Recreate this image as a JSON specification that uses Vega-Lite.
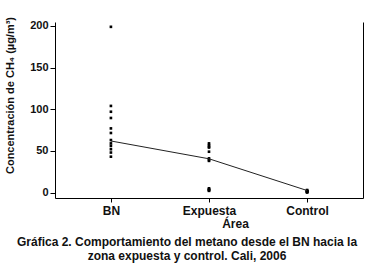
{
  "$schema": "https://vega.github.io/schema/vega-lite/v6.json",
  "autosize": {"type": "none"},
  "padding": {"left": 55, "top": 22, "right": 4, "bottom": 67},
  "width": 308,
  "height": 176,
  "config": {
    "font": "Liberation Sans",
    "view": {"stroke": null},
    "axis": {"grid": false, "domainColor": "#000", "tickColor": "#000", "labelColor": "#111", "titleColor": "#111", "labelFontWeight": "bold", "titleFontWeight": "bold", "labelFontSize": 11, "titleFontSize": 11}
  },
  "title": {
    "text": ["Gráfica 2. Comportamiento del metano desde el BN hacia la", "zona expuesta y control. Cali, 2006"],
    "orient": "bottom",
    "anchor": "middle",
    "dx": -22,
    "offset": 8,
    "fontSize": 12,
    "fontWeight": "bold",
    "lineHeight": 13.5,
    "color": "#111"
  },
  "datasets": {
    "puntos": [
      {"area": "BN", "ch4": 199},
      {"area": "BN", "ch4": 104},
      {"area": "BN", "ch4": 97},
      {"area": "BN", "ch4": 89.5},
      {"area": "BN", "ch4": 77},
      {"area": "BN", "ch4": 71.5},
      {"area": "BN", "ch4": 63},
      {"area": "BN", "ch4": 59},
      {"area": "BN", "ch4": 56},
      {"area": "BN", "ch4": 52},
      {"area": "BN", "ch4": 48},
      {"area": "BN", "ch4": 43},
      {"area": "Expuesta", "ch4": 59},
      {"area": "Expuesta", "ch4": 57},
      {"area": "Expuesta", "ch4": 55},
      {"area": "Expuesta", "ch4": 54},
      {"area": "Expuesta", "ch4": 49},
      {"area": "Expuesta", "ch4": 41},
      {"area": "Expuesta", "ch4": 39},
      {"area": "Expuesta", "ch4": 38},
      {"area": "Expuesta", "ch4": 5},
      {"area": "Expuesta", "ch4": 4},
      {"area": "Expuesta", "ch4": 3},
      {"area": "Expuesta", "ch4": 3},
      {"area": "Expuesta", "ch4": 2},
      {"area": "Control", "ch4": 3},
      {"area": "Control", "ch4": 2},
      {"area": "Control", "ch4": 2},
      {"area": "Control", "ch4": 1.5},
      {"area": "Control", "ch4": 1},
      {"area": "Control", "ch4": 1},
      {"area": "Control", "ch4": 0.5},
      {"area": "Control", "ch4": 0}
    ],
    "linea": [
      {"area": "BN", "ch4": 61.9},
      {"area": "Expuesta", "ch4": 40.5},
      {"area": "Control", "ch4": 2.4}
    ]
  },
  "encoding": {
    "x": {"field": "area", "type": "nominal", "sort": ["BN", "Expuesta", "Control"],
          "scale": {"type": "point", "padding": 0.57},
          "axis": {"title": "Área", "labelAngle": 0, "labelFontSize": 12, "titleFontSize": 12, "tickSize": 4, "labelPadding": 3, "titleY": 20, "titleX": 180, "titleAlign": "center", "titleBaseline": "top"}}
  },
  "layer": [
    {
      "data": {"name": "puntos"},
      "mark": {"type": "point", "filled": true, "shape": "square", "size": 7, "color": "#000", "opacity": 1},
      "encoding": {
        "y": {"field": "ch4", "type": "quantitative",
              "scale": {"domain": [-6.6, 204.8], "nice": false, "zero": false},
              "axis": {"title": "Concentración de CH₄ (µg/m³)", "values": [0, 50, 100, 150, 200], "tickSize": 5, "labelPadding": 2, "titleX": -40, "titleY": 73}}
      }
    },
    {
      "data": {"name": "linea"},
      "mark": {"type": "line", "color": "#222", "strokeWidth": 1},
      "encoding": {
        "y": {"field": "ch4", "type": "quantitative",
              "scale": {"domain": [-6.6, 204.8], "nice": false, "zero": false},
              "axis": {"orient": "right", "labels": false, "ticks": false, "title": null}}
      }
    }
  ],
  "resolve": {"axis": {"y": "independent"}}
}
